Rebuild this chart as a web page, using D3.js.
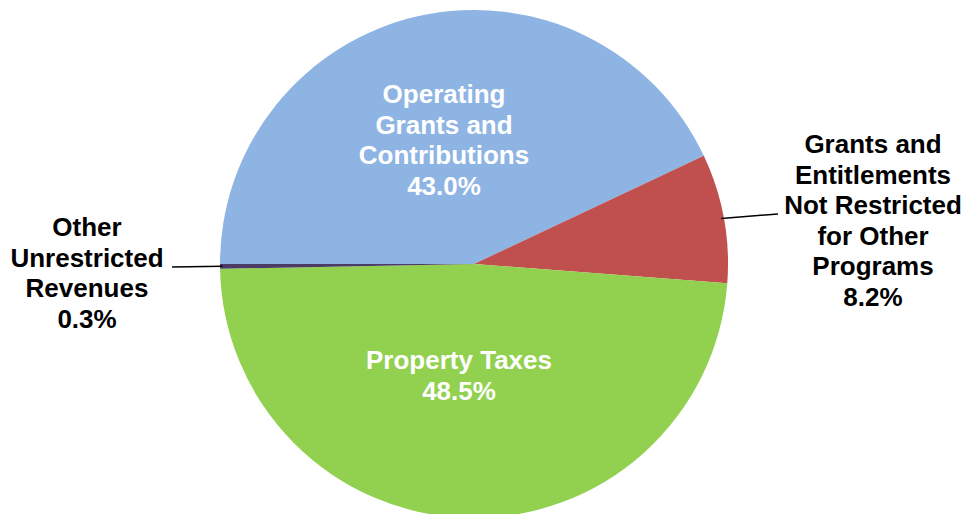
<!DOCTYPE html>
<html>
<head>
<meta charset="utf-8">
<script src="https://cdn.jsdelivr.net/npm/d3@7"></script>
<style>
  body { margin: 0; background: #fff; }
  text { font-family: "Liberation Sans", Arial, sans-serif; font-weight: bold; }
</style>
</head>
<body>
<div id="chart"></div>
<script>
// chart data (clockwise, starting at 9 o'clock)
var categories = ["Operating Grants and Contributions",
  "Grants and Entitlements Not Restricted for Other Programs",
  "Property Taxes",
  "Other Unrestricted Revenues"];
var values = [43.0, 8.2, 48.5, 0.3];
var labelLines = [
  ["Operating", "Grants and", "Contributions", "43.0%"],
  ["Grants and", "Entitlements", "Not Restricted", "for Other", "Programs", "8.2%"],
  ["Property Taxes", "48.5%"],
  ["Other", "Unrestricted", "Revenues", "0.3%"]
];
var colors = ["#8eb4e3", "#c0504d", "#92d050", "#4b3c66"];

var svgWidth = 969;
var svgHeight = 514;
var cx = 474, cy = 264, radius = 254;

var svg = d3.select("#chart")
  .append("svg")
  .attr("width", svgWidth)
  .attr("height", svgHeight);

var g = svg.append("g")
  .attr("transform", `translate(${cx}, ${cy})`);

var pie = d3.pie()
  .sort(null)
  .value(d => d)
  .startAngle(-Math.PI / 2)
  .endAngle(-Math.PI / 2 + 2 * Math.PI);

var arcs = pie(values);

var arc = d3.arc().innerRadius(0).outerRadius(radius);

g.selectAll("path.slice")
  .data(arcs)
  .enter()
  .append("path")
  .attr("class", "slice")
  .attr("d", arc)
  .attr("fill", (d, i) => colors[i]);

// label placement (relative to pie centre): x, first baseline, inside?
var labelPos = [
  { x: -30, y: -161, inside: true, lead: null },
  { x: 399, y: -111, inside: false, lead: [304, -50] },
  { x: -15, y: 105, inside: true, lead: null },
  { x: -387, y: -28, inside: false, lead: [-302, 3] }
];
var lineH = 30.5;
var fontSize = 26;

// leader lines for outside labels
arcs.forEach(function (d, i) {
  var p = labelPos[i];
  if (!p.lead) return;
  var mid = (d.startAngle + d.endAngle) / 2;
  var sx = radius * Math.sin(mid) * 0.99;
  var sy = -radius * Math.cos(mid) * 0.99;
  g.append("line")
    .attr("x1", sx).attr("y1", sy)
    .attr("x2", p.lead[0]).attr("y2", p.lead[1])
    .attr("stroke", "#000")
    .attr("stroke-width", 1.5);
});

arcs.forEach(function (d, i) {
  var p = labelPos[i];
  var t = g.append("text")
    .attr("text-anchor", "middle")
    .attr("font-size", fontSize)
    .attr("fill", p.inside ? "#fff" : "#000");
  labelLines[i].forEach(function (line, j) {
    t.append("tspan")
      .attr("x", p.x)
      .attr("y", p.y + j * lineH)
      .text(line);
  });
});
</script>
</body>
</html>
